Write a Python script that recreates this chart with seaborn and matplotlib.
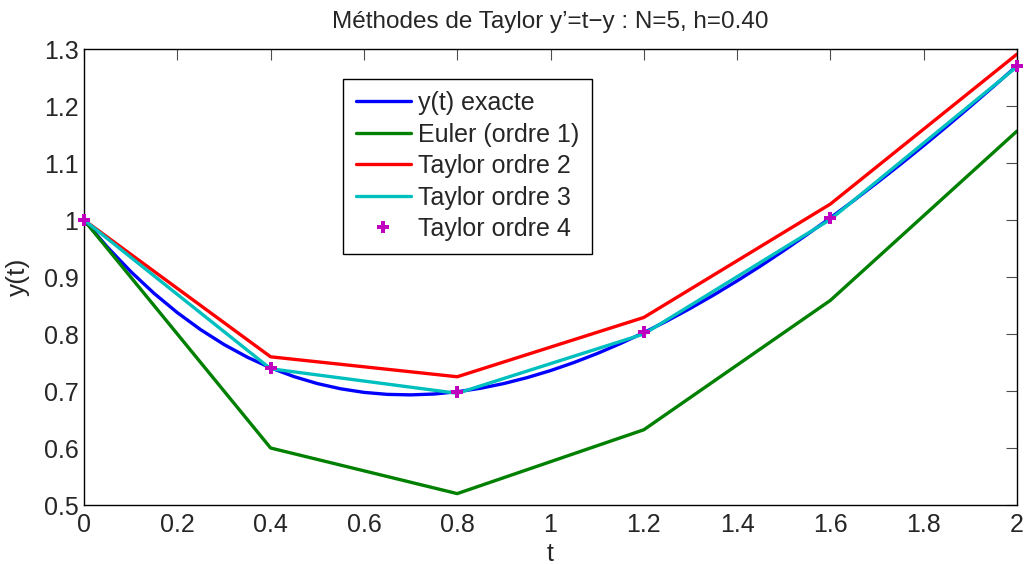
import matplotlib
matplotlib.use("Agg")
import matplotlib.pyplot as plt
import seaborn as sns

# Exact solution y(t) = t - 1 + 2 exp(-t), tabulated every 0.05
t_exact = [0.00, 0.05, 0.10, 0.15, 0.20, 0.25, 0.30, 0.35, 0.40, 0.45, 0.50,
           0.55, 0.60, 0.65, 0.70, 0.75, 0.80, 0.85, 0.90, 0.95, 1.00,
           1.05, 1.10, 1.15, 1.20, 1.25, 1.30, 1.35, 1.40, 1.45, 1.50,
           1.55, 1.60, 1.65, 1.70, 1.75, 1.80, 1.85, 1.90, 1.95, 2.00]
y_exact = [1.0000, 0.9525, 0.9097, 0.8714, 0.8375, 0.8076, 0.7816, 0.7594, 0.7406, 0.7253, 0.7131,
           0.7039, 0.6976, 0.6941, 0.6932, 0.6947, 0.6987, 0.7048, 0.7131, 0.7235, 0.7358,
           0.7499, 0.7657, 0.7833, 0.8024, 0.8230, 0.8451, 0.8685, 0.8932, 0.9191, 0.9463,
           0.9745, 1.0038, 1.0341, 1.0654, 1.0975, 1.1306, 1.1645, 1.1991, 1.2345, 1.2707]

# Numerical schemes, N=5 steps of h=0.4
t_steps = [0.0, 0.4, 0.8, 1.2, 1.6, 2.0]
y_euler = [1.000, 0.600, 0.520, 0.632, 0.859, 1.156]
y_taylor2 = [1.000, 0.760, 0.725, 0.829, 1.028, 1.291]
y_taylor3 = [1.000, 0.739, 0.696, 0.800, 1.001, 1.269]
y_taylor4 = [1.000, 0.741, 0.699, 0.803, 1.004, 1.271]

labels = ["y(t) exacte", "Euler (ordre 1)", "Taylor ordre 2", "Taylor ordre 3", "Taylor ordre 4"]
x_ticks = [0, 0.2, 0.4, 0.6, 0.8, 1.0, 1.2, 1.4, 1.6, 1.8, 2.0]
x_ticklabels = ["0", "0.2", "0.4", "0.6", "0.8", "1", "1.2", "1.4", "1.6", "1.8", "2"]
y_ticks = [0.5, 0.6, 0.7, 0.8, 0.9, 1.0, 1.1, 1.2, 1.3]
y_ticklabels = ["0.5", "0.6", "0.7", "0.8", "0.9", "1", "1.1", "1.2", "1.3"]

sns.set_style("white")
plt.rcParams["font.family"] = ["Liberation Sans", "DejaVu Sans"]
plt.rcParams["axes.linewidth"] = 1.0

fig = plt.figure(figsize=(10.26, 5.64), dpi=100)
ax = fig.add_axes([0.0819, 0.1046, 0.9093, 0.8085])

lw = 2.4
sns.lineplot(x=t_exact, y=y_exact, ax=ax, color=(0, 0, 1), lw=lw, label=labels[0])
sns.lineplot(x=t_steps, y=y_euler, ax=ax, color=(0, 0.5, 0), lw=lw, label=labels[1])
sns.lineplot(x=t_steps, y=y_taylor2, ax=ax, color=(1, 0, 0), lw=lw, label=labels[2])
sns.lineplot(x=t_steps, y=y_taylor3, ax=ax, color=(0, 0.75, 0.75), lw=lw, label=labels[3])
sns.lineplot(x=t_steps, y=y_taylor4, ax=ax, color=(0.75, 0, 0.75), lw=0,
             marker="P", markersize=9, markeredgewidth=0, linestyle="none",
             label=labels[4], clip_on=False, zorder=5)

ax.set_xlim(0, 2)
ax.set_ylim(0.5, 1.3)
ax.set_xticks(x_ticks)
ax.set_xticklabels(x_ticklabels)
ax.set_yticks(y_ticks)
ax.set_yticklabels(y_ticklabels)
ax.tick_params(direction="in", length=8, width=0.8, labelsize=18, color="0.3",
               top=True, right=True)
ax.tick_params(axis="x", pad=6)
ax.tick_params(axis="y", pad=4)
for s in ax.spines.values():
    s.set_visible(True)
    s.set_color("black")

ax.set_xlabel("t", fontsize=18, labelpad=3)
ax.set_ylabel("y(t)", fontsize=19, labelpad=10)
ax.set_title("Méthodes de Taylor y’=t−y : N=5, h=0.40", fontsize=17.5, pad=15)

leg = ax.legend(loc="upper left", bbox_to_anchor=(0.278, 0.935), fontsize=18,
                frameon=True, fancybox=False, framealpha=1, edgecolor="black",
                borderpad=0.5, labelspacing=0.3, handlelength=2.2, handletextpad=0.3,
                borderaxespad=0)
leg.get_frame().set_linewidth(1.0)

fig.savefig("out.png", dpi=100, facecolor="white")
